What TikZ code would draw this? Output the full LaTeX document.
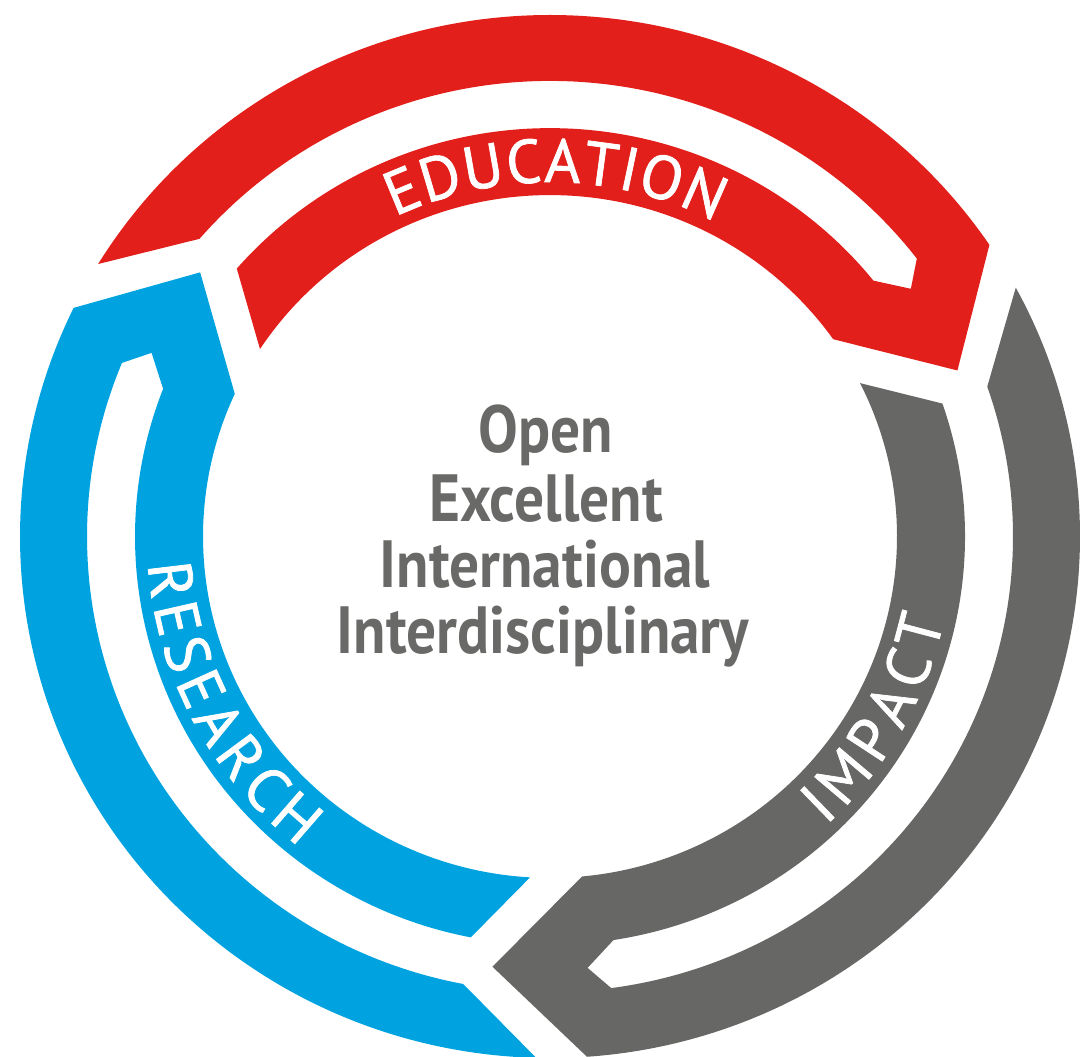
\documentclass[tikz,border=0pt]{standalone}
\usepackage{fontspec}
\usetikzlibrary{decorations.text}
\newfontfamily\centerfont[FakeStretch=0.89]{PT Sans}
\newfontfamily\labelfont[FakeBold=1.2]{PT Sans}
\definecolor{edured}{RGB}{226,31,26}
\definecolor{resblue}{RGB}{0,163,224}
\definecolor{impgray}{RGB}{103,104,101}
\definecolor{txtgray}{RGB}{105,106,104}
\tikzset{
  ctext/.style={font=\centerfont\bfseries\fontsize{19}{19}\selectfont, text=txtgray, inner sep=0pt, anchor=base},
  bandlabel/.style={decorate, decoration={text along path, text align={fit to path}, text color=white}},
}
\newcommand{\lbl}{\labelfont\fontsize{17.5}{17.5}\selectfont}
\begin{document}
\begin{tikzpicture}
\useasboundingbox (0,0) rectangle (10.81,10.56);
\begin{scope}[shift={(5.50,5.195)}, yscale=0.984]
  \foreach \rot/\col in {0/edured, 120/resblue, -120/impgray} {
    \fill[\col, rotate=\rot]
      (148.5:5.30) arc[start angle=148.5, end angle=34.0, radius=5.30]
      -- (22.5:4.41) -- (35.3:3.47)
      arc[start angle=35.3, end angle=146.7, radius=3.47]
      -- (139.0:4.15)
      arc[start angle=139.0, end angle=38.8, radius=4.15]
      -- (34.9:4.40) -- (37.6:4.63)
      arc[start angle=37.6, end angle=139.2, radius=4.63]
      -- cycle;
  }
  \path[bandlabel, decoration={text={|\lbl|EDUCATION}}]
    (115.5:3.60) arc[start angle=115.5, end angle=62.7, radius=3.60];
  \path[bandlabel, decoration={text={|\lbl|RESEARCH}}]
    (184:4.03) arc[start angle=184, end angle=231.5, radius=4.03];
  \path[bandlabel, decoration={text={|\lbl|IMPACT}}]
    (-46.8:4.03) arc[start angle=-46.8, end angle=-12.1, radius=4.03];
\end{scope}
\node[ctext] (open) at (5.46,6.04) {Open};
\node[ctext] (excellent) at (5.46,5.35) {Excellent};
\node[ctext] (international) at (5.45,4.69) {International};
\node[ctext] (interdisc) at (5.43,4.03) {Interdisciplinary};
\end{tikzpicture}
\end{document}
